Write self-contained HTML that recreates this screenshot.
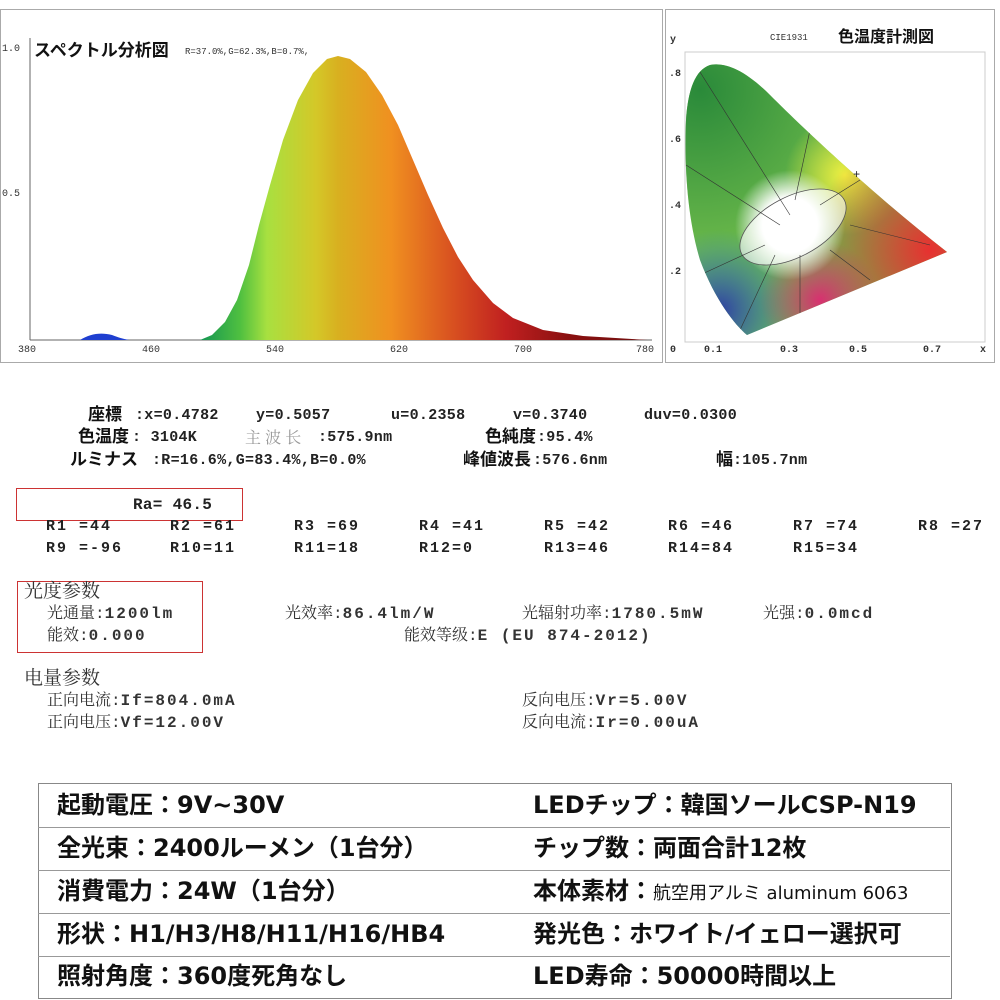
<!DOCTYPE html>
<html><head><meta charset="utf-8">
<style>
body{margin:0;width:1000px;height:1000px;background:#fff;position:relative;overflow:hidden;font-family:"Liberation Mono","Noto Serif CJK SC",monospace;}
.a{position:absolute;white-space:pre;line-height:1;}
.m{font-size:15px;color:#222;font-weight:bold;letter-spacing:0.3px;}
.r{font-size:15px;color:#222;font-weight:bold;letter-spacing:2px;}
.s{font-family:"Liberation Mono","Noto Serif CJK SC",serif;font-size:16px;color:#333;}
.s b{letter-spacing:2px;}
.j{font-family:"Liberation Sans","Noto Sans CJK JP",sans-serif;font-weight:bold;font-size:17px;color:#111;}
.t{font-family:"DejaVu Sans","Noto Sans CJK JP",sans-serif;font-weight:bold;font-size:24px;color:#111;}
.row{position:absolute;left:38px;width:912px;height:43px;border-bottom:1px solid #999;}
</style></head><body>
<svg class="a" style="left:0;top:0" width="1000" height="370">
<defs>
<linearGradient id="sp" x1="205" x2="648" y1="0" y2="0" gradientUnits="userSpaceOnUse">
<stop offset="0" stop-color="#1a9a50"/><stop offset="0.08" stop-color="#50c040"/><stop offset="0.14" stop-color="#a8e040"/>
<stop offset="0.25" stop-color="#d4c828"/><stop offset="0.3" stop-color="#d8b020"/><stop offset="0.42" stop-color="#f09020"/>
<stop offset="0.56" stop-color="#d85020"/><stop offset="0.68" stop-color="#c02020"/><stop offset="0.82" stop-color="#8a1010"/><stop offset="1" stop-color="#701010"/>
</linearGradient>
<clipPath id="cc"><path d="M747,335 C735,325 715,300 700,260 C688,220 684,170 686,120 C688,90 695,70 710,65 C725,62 745,70 770,95 C810,135 880,200 947,252 Z"/></clipPath>
<radialGradient id="gr" cx="700" cy="90" r="160" gradientUnits="userSpaceOnUse"><stop offset="0" stop-color="#2a8a3a"/><stop offset="1" stop-color="#2a8a3a" stop-opacity="0"/></radialGradient>
<radialGradient id="ye" cx="845" cy="175" r="60" gradientUnits="userSpaceOnUse"><stop offset="0" stop-color="#f0f040"/><stop offset="1" stop-color="#f0f040" stop-opacity="0"/></radialGradient>
<radialGradient id="rd" cx="930" cy="250" r="120" gradientUnits="userSpaceOnUse"><stop offset="0" stop-color="#e83030"/><stop offset="1" stop-color="#e83030" stop-opacity="0"/></radialGradient>
<radialGradient id="bl" cx="720" cy="310" r="80" gradientUnits="userSpaceOnUse"><stop offset="0" stop-color="#3040a0"/><stop offset="1" stop-color="#3080d0" stop-opacity="0"/></radialGradient>
<radialGradient id="pk" cx="820" cy="300" r="60" gradientUnits="userSpaceOnUse"><stop offset="0" stop-color="#d83070"/><stop offset="1" stop-color="#d83070" stop-opacity="0"/></radialGradient>
<radialGradient id="wh" cx="790" cy="225" r="55" gradientUnits="userSpaceOnUse"><stop offset="0.5" stop-color="#fff"/><stop offset="1" stop-color="#fff" stop-opacity="0"/></radialGradient>
</defs>
<rect x="0.5" y="9.5" width="662" height="353" fill="none" stroke="#aaa"/>
<rect x="665.5" y="9.5" width="329" height="353" fill="none" stroke="#aaa"/>
<line x1="30" y1="38" x2="30" y2="340" stroke="#666"/><line x1="30" y1="340" x2="652" y2="340" stroke="#666"/>
<path d="M30,340 L80,340 C90,334 100,332 112,335 C120,338 126,340 132,340 Z" fill="#1f3fd0"/>
<path d="M200,340 L212,335 L225,322 L237,300 L249,265 L259,225 L270,185 L283,140 L298,100 L313,73 L327,59 L338,56 L350,59 L366,72 L382,95 L398,125 L413,160 L428,195 L443,228 L458,257 L473,280 L493,303 L513,318 L543,330 L583,336 L648,340 Z" fill="url(#sp)"/>
<g font-family="Liberation Mono" font-size="10" fill="#333">
<text x="2" y="51">1.0</text><text x="2" y="196">0.5</text>
<text x="18" y="352">380</text><text x="142" y="352">460</text><text x="266" y="352">540</text><text x="390" y="352">620</text><text x="514" y="352">700</text><text x="636" y="352">780</text>
</g>
<text x="34" y="56" font-family="Liberation Sans,Noto Sans CJK JP,sans-serif" font-weight="bold" font-size="17" fill="#111">スペクトル分析図</text>
<text x="185" y="54" font-family="Liberation Mono" font-size="9" fill="#333">R=37.0%,G=62.3%,B=0.7%,</text>
<rect x="685" y="52" width="300" height="290" fill="none" stroke="#ccc"/>
<g clip-path="url(#cc)">
<rect x="680" y="60" width="280" height="280" fill="#6ab84a"/>
<rect x="680" y="60" width="280" height="280" fill="url(#gr)"/>
<rect x="680" y="60" width="280" height="280" fill="url(#ye)"/>
<rect x="680" y="60" width="280" height="280" fill="url(#rd)"/>
<rect x="680" y="60" width="280" height="280" fill="url(#bl)"/>
<rect x="680" y="60" width="280" height="280" fill="url(#pk)"/>
<rect x="680" y="60" width="280" height="280" fill="url(#wh)"/>
<ellipse cx="793" cy="227" rx="58" ry="30" transform="rotate(-28 793 227)" fill="#fff" fill-opacity="0.6" stroke="#555" stroke-width="0.8"/>
<g stroke="#333" stroke-width="0.6" fill="none">
<path d="M700,72 L790,215"/><path d="M686,165 L780,225"/><path d="M810,130 L795,200"/><path d="M860,180 L820,205"/><path d="M700,275 L765,245"/><path d="M740,330 L775,255"/><path d="M800,335 L800,255"/><path d="M870,280 L830,250"/><path d="M930,245 L850,225"/>
</g>
</g>
<text x="853" y="178" font-size="12" fill="#222">+</text>
<g font-family="Liberation Mono" font-size="10" fill="#333" font-weight="bold">
<text x="670" y="42">y</text><text x="669" y="76">.8</text><text x="669" y="142">.6</text><text x="669" y="208">.4</text><text x="669" y="274">.2</text>
<text x="670" y="352">0</text><text x="704" y="352">0.1</text><text x="780" y="352">0.3</text><text x="849" y="352">0.5</text><text x="923" y="352">0.7</text><text x="980" y="352">x</text>
<text x="770" y="40" font-size="9" font-weight="normal">CIE1931</text>
</g>
<text x="838" y="42" font-family="Liberation Sans,Noto Sans CJK JP,sans-serif" font-weight="bold" font-size="16" fill="#111">色温度計測図</text>
</svg>

<div class="a j" style="left:88px;top:406px">座標</div>
<div class="a m" style="left:135px;top:408px">:x=0.4782</div>
<div class="a m" style="left:256px;top:408px">y=0.5057</div>
<div class="a m" style="left:391px;top:408px">u=0.2358</div>
<div class="a m" style="left:513px;top:408px">v=0.3740</div>
<div class="a m" style="left:644px;top:408px">duv=0.0300</div>
<div class="a j" style="left:78px;top:428px">色温度</div>
<div class="a m" style="left:132px;top:430px">: 3104K</div>
<div class="a" style="left:245px;top:429px;font-size:16px;color:#999;font-family:'Noto Serif CJK SC',serif">主 波 长</div>
<div class="a m" style="left:318px;top:430px">:575.9nm</div>
<div class="a j" style="left:485px;top:428px">色純度</div>
<div class="a m" style="left:537px;top:430px">:95.4%</div>
<div class="a j" style="left:70px;top:451px">ルミナス</div>
<div class="a m" style="left:152px;top:453px">:R=16.6%,G=83.4%,B=0.0%</div>
<div class="a j" style="left:463px;top:451px">峰値波長</div>
<div class="a m" style="left:533px;top:453px">:576.6nm</div>
<div class="a j" style="left:716px;top:451px">幅</div>
<div class="a m" style="left:733px;top:453px">:105.7nm</div>

<div class="a" style="left:16px;top:488px;width:225px;height:31px;border:1.5px solid #c33;"></div>
<div class="a m" style="left:133px;top:497px;font-size:16px">Ra= 46.5</div>
<div class="a r" style="left:46px;top:519px">R1 =44</div>
<div class="a r" style="left:170px;top:519px">R2 =61</div>
<div class="a r" style="left:294px;top:519px">R3 =69</div>
<div class="a r" style="left:419px;top:519px">R4 =41</div>
<div class="a r" style="left:544px;top:519px">R5 =42</div>
<div class="a r" style="left:668px;top:519px">R6 =46</div>
<div class="a r" style="left:793px;top:519px">R7 =74</div>
<div class="a r" style="left:918px;top:519px">R8 =27</div>
<div class="a r" style="left:46px;top:541px">R9 =-96</div>
<div class="a r" style="left:170px;top:541px">R10=11</div>
<div class="a r" style="left:294px;top:541px">R11=18</div>
<div class="a r" style="left:419px;top:541px">R12=0</div>
<div class="a r" style="left:544px;top:541px">R13=46</div>
<div class="a r" style="left:668px;top:541px">R14=84</div>
<div class="a r" style="left:793px;top:541px">R15=34</div>

<div class="a" style="left:17px;top:581px;width:184px;height:70px;border:1.5px solid #c33;"></div>
<div class="a s" style="left:24px;top:583px;font-size:19px">光度参数</div>
<div class="a s" style="left:47px;top:606px">光通量:<b>1200lm</b></div>
<div class="a s" style="left:47px;top:628px">能效:<b>0.000</b></div>
<div class="a s" style="left:285px;top:606px">光效率:<b>86.4lm/W</b></div>
<div class="a s" style="left:522px;top:606px">光辐射功率:<b>1780.5mW</b></div>
<div class="a s" style="left:763px;top:606px">光强:<b>0.0mcd</b></div>
<div class="a s" style="left:404px;top:628px">能效等级:<b>E (EU 874-2012)</b></div>
<div class="a s" style="left:24px;top:670px;font-size:19px">电量参数</div>
<div class="a s" style="left:47px;top:693px">正向电流:<b>If=804.0mA</b></div>
<div class="a s" style="left:47px;top:715px">正向电压:<b>Vf=12.00V</b></div>
<div class="a s" style="left:522px;top:693px">反向电压:<b>Vr=5.00V</b></div>
<div class="a s" style="left:522px;top:715px">反向电流:<b>Ir=0.00uA</b></div>

<div class="a" style="left:38px;top:783px;width:912px;height:214px;border:1px solid #888;border-top:1.5px solid #888;"></div>
<div class="row" style="top:784px"></div><div class="row" style="top:827px"></div><div class="row" style="top:870px"></div><div class="row" style="top:913px"></div>
<div class="a t" style="left:57px;top:793px">起動電圧：9V~30V</div>
<div class="a t" style="left:533px;top:793px">LEDチップ：韓国ソールCSP-N19</div>
<div class="a t" style="left:57px;top:836px">全光束：2400ルーメン（1台分）</div>
<div class="a t" style="left:533px;top:836px">チップ数：両面合計12枚</div>
<div class="a t" style="left:57px;top:879px">消費電力：24W（1台分）</div>
<div class="a t" style="left:533px;top:879px">本体素材：<span style="font-size:18px;font-weight:normal">航空用アルミ aluminum 6063</span></div>
<div class="a t" style="left:57px;top:922px">形状：H1/H3/H8/H11/H16/HB4</div>
<div class="a t" style="left:533px;top:922px">発光色：ホワイト/イェロー選択可</div>
<div class="a t" style="left:57px;top:964px">照射角度：360度死角なし</div>
<div class="a t" style="left:533px;top:964px">LED寿命：50000時間以上</div>
</body></html>
